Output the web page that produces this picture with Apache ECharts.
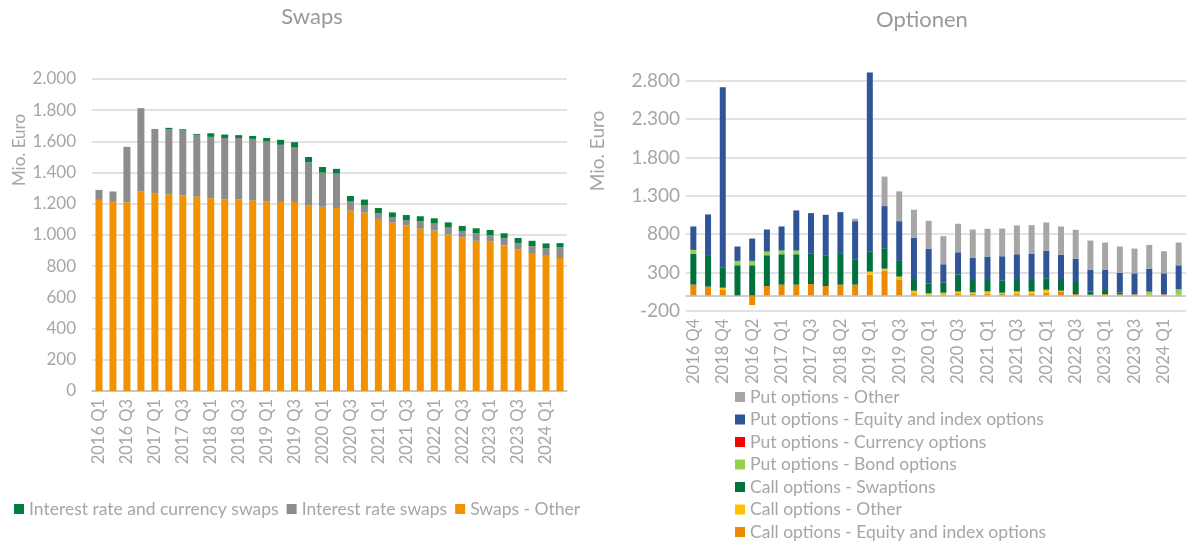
<!DOCTYPE html>
<html>
<head>
<meta charset="utf-8">
<script src="https://cdn.jsdelivr.net/npm/echarts@6/dist/echarts.min.js"></script>
<style>
  html, body { margin: 0; padding: 0; background: #ffffff; }
  #chart { width: 1186px; height: 544px; }
</style>
</head>
<body>
<div id="chart"></div>
<script>
// ---- Swaps (Mio. Euro) ----
const swapQuarters = [
  '2016 Q1','2016 Q2','2016 Q3','2016 Q4','2017 Q1','2017 Q2','2017 Q3','2017 Q4',
  '2018 Q1','2018 Q2','2018 Q3','2018 Q4','2019 Q1','2019 Q2','2019 Q3','2019 Q4',
  '2020 Q1','2020 Q2','2020 Q3','2020 Q4','2021 Q1','2021 Q2','2021 Q3','2021 Q4',
  '2022 Q1','2022 Q2','2022 Q3','2022 Q4','2023 Q1','2023 Q2','2023 Q3','2023 Q4',
  '2024 Q1','2024 Q2'
];
const swapsOther = [
  1225,1218,1210,1280,1267,1261,1255,1246,1235,1229,1229,1222,1216,1212,1212,1190,
  1182,1173,1158,1143,1103,1079,1060,1041,1028,1004,983,963,957,933,906,884,871,852
];
const interestRateSwaps = [
  64,61,355,533,413,415,415,396,394,393,393,394,383,366,348,276,
  218,221,56,49,36,36,34,47,45,47,43,48,43,48,42,45,45,71
];
const irCurrencySwaps = [
  0,0,0,0,0,11,8,6,23,22,18,19,23,32,35,34,
  36,30,36,35,34,30,34,32,34,30,32,32,32,30,33,34,30,25
];

// ---- Optionen (Mio. Euro) ----
const optionQuarters = [
  '2016 Q4','2017 Q4','2018 Q4','2016 Q1','2016 Q2','2016 Q3','2017 Q1','2017 Q2',
  '2017 Q3','2018 Q1','2018 Q2','2018 Q3','2019 Q1','2019 Q2','2019 Q3','2019 Q4',
  '2020 Q1','2020 Q2','2020 Q3','2020 Q4','2021 Q1','2021 Q2','2021 Q3','2021 Q4',
  '2022 Q1','2022 Q2','2022 Q3','2022 Q4','2023 Q1','2023 Q2','2023 Q3','2023 Q4',
  '2024 Q1','2024 Q2'
];
const callEquity = [
  140,114,70,0,-127,122,140,140,148,122,140,140,271,323,210,26,
  13,13,26,17,22,17,22,22,35,44,17,9,17,13,13,13,13,9
];
const callOther = [
  0,0,30,0,0,0,0,0,0,0,0,0,39,26,35,35,
  13,22,26,22,30,18,30,30,39,17,0,0,0,0,0,0,0,0
];
const callSwaptions = [
  401,401,262,393,393,402,397,397,402,402,401,332,266,267,205,140,
  131,131,223,162,149,157,149,149,149,153,158,43,53,26,0,0,0,0
];
const putBond = [
  53,0,0,57,57,48,48,48,0,0,0,0,0,0,0,0,
  0,0,0,0,0,0,0,0,0,0,0,0,0,0,0,35,0,70
];
const putCurrency = [
  0,0,0,0,0,0,0,0,0,0,0,0,0,0,0,0,
  0,0,0,0,0,0,0,0,0,0,0,0,0,0,0,0,0,0
];
const putEquity = [
  306,542,2354,188,292,288,315,524,524,528,546,497,2334,550,519,550,
  454,240,288,292,306,319,336,340,362,314,305,284,266,258,275,301,275,314
];
const putOther = [
  0,0,0,0,0,0,0,0,0,0,0,31,0,385,389,367,
  363,367,372,367,362,362,376,376,367,372,376,380,354,341,323,310,288,297
];

const FONT = 'Lato, "Noto Sans", sans-serif';
const TEXT_GREY = '#a6a6a6';
const GRID_GREY = '#d9d9d9';
const AXIS_GREY = '#bfbfbf';

// German thousands separator
function deNumber(v) {
  const s = String(Math.abs(v)).replace(/\B(?=(\d{3})+(?!\d))/g, '.');
  return (v < 0 ? '-' : '') + s;
}

function categoryAxis(gridIndex, data) {
  return {
    type: 'category',
    gridIndex: gridIndex,
    data: data,
    axisTick: { show: false },
    axisLine: { lineStyle: { color: AXIS_GREY, width: 1.5 } },
    axisLabel: {
      interval: 1,
      rotate: 90,
      margin: 8,
      color: TEXT_GREY,
      fontFamily: FONT,
      fontSize: 16.5
    }
  };
}

function barSeries(name, data, color, stack, axisIndex, width) {
  return {
    name: name,
    type: 'bar',
    stack: stack,
    xAxisIndex: axisIndex,
    yAxisIndex: axisIndex,
    data: data,
    barWidth: width,
    itemStyle: { color: color },
    emphasis: { disabled: true }
  };
}

const chart = echarts.init(document.getElementById('chart'), null, { renderer: 'canvas' });

chart.setOption({
  animation: false,
  backgroundColor: '#ffffff',
  textStyle: { fontFamily: FONT },
  grid: [
    { left: 92, width: 475, top: 79, height: 312 },
    { left: 686, width: 501, top: 65.6, height: 245.1 }
  ],
  xAxis: [
    categoryAxis(0, swapQuarters),
    categoryAxis(1, optionQuarters)
  ],
  yAxis: [
    {
      type: 'value', gridIndex: 0, min: 0, max: 2000, interval: 200,
      axisLine: { show: false }, axisTick: { show: false },
      splitLine: { lineStyle: { color: GRID_GREY, width: 1.5 } },
      axisLabel: { color: TEXT_GREY, fontFamily: FONT, fontSize: 17, margin: 16, formatter: deNumber }
    },
    {
      type: 'value', gridIndex: 1, min: -200, max: 3000, interval: 500,
      axisLine: { show: false }, axisTick: { show: false },
      splitLine: { showMaxLine: false, lineStyle: { color: GRID_GREY, width: 1.5 } },
      axisLabel: { color: TEXT_GREY, fontFamily: FONT, fontSize: 19, margin: 6, showMaxLabel: false, formatter: deNumber }
    }
  ],
  legend: [
    {
      left: 9, top: 495,
      itemWidth: 10, itemHeight: 10, itemGap: 8,
      icon: 'rect',
      textStyle: { color: TEXT_GREY, fontFamily: FONT, fontSize: 17.5 },
      data: ['Interest rate and currency swaps', 'Interest rate swaps', 'Swaps - Other']
    },
    {
      orient: 'vertical', left: 730, top: 383, height: 200,
      itemWidth: 10, itemHeight: 10, itemGap: 4.5,
      icon: 'rect',
      textStyle: { color: TEXT_GREY, fontFamily: FONT, fontSize: 17.5 },
      data: [
        'Put options - Other',
        'Put options - Equity and index options',
        'Put options - Currency options',
        'Put options - Bond options',
        'Call options - Swaptions',
        'Call options - Other',
        'Call options - Equity and index options'
      ]
    }
  ],
  series: [
    barSeries('Swaps - Other', swapsOther, '#f29200', 'swaps', 0, 7),
    barSeries('Interest rate swaps', interestRateSwaps, '#8c8c8c', 'swaps', 0, 7),
    barSeries('Interest rate and currency swaps', irCurrencySwaps, '#00803a', 'swaps', 0, 7),

    barSeries('Call options - Equity and index options', callEquity, '#ed8b00', 'options', 1, 6),
    barSeries('Call options - Other', callOther, '#ffc000', 'options', 1, 6),
    barSeries('Call options - Swaptions', callSwaptions, '#00703c', 'options', 1, 6),
    barSeries('Put options - Bond options', putBond, '#92d050', 'options', 1, 6),
    barSeries('Put options - Currency options', putCurrency, '#ff0000', 'options', 1, 6),
    barSeries('Put options - Equity and index options', putEquity, '#2f5597', 'options', 1, 6),
    barSeries('Put options - Other', putOther, '#a6a6a6', 'options', 1, 6)
  ],
  graphic: [
    { type: 'text', x: 312, y: 17, style: { text: 'Swaps', align: 'center', verticalAlign: 'middle', fill: '#999999', font: '22px ' + FONT } },
    { type: 'text', x: 922, y: 20, style: { text: 'Optionen', align: 'center', verticalAlign: 'middle', fill: '#999999', font: '22px ' + FONT } },
    { type: 'text', x: 20, y: 150, rotation: Math.PI / 2, style: { text: 'Mio. Euro', align: 'center', verticalAlign: 'middle', fill: TEXT_GREY, font: '17px ' + FONT } },
    { type: 'text', x: 598, y: 151, rotation: Math.PI / 2, style: { text: 'Mio. Euro', align: 'center', verticalAlign: 'middle', fill: TEXT_GREY, font: '19px ' + FONT } }
  ]
});
</script>
</body>
</html>
